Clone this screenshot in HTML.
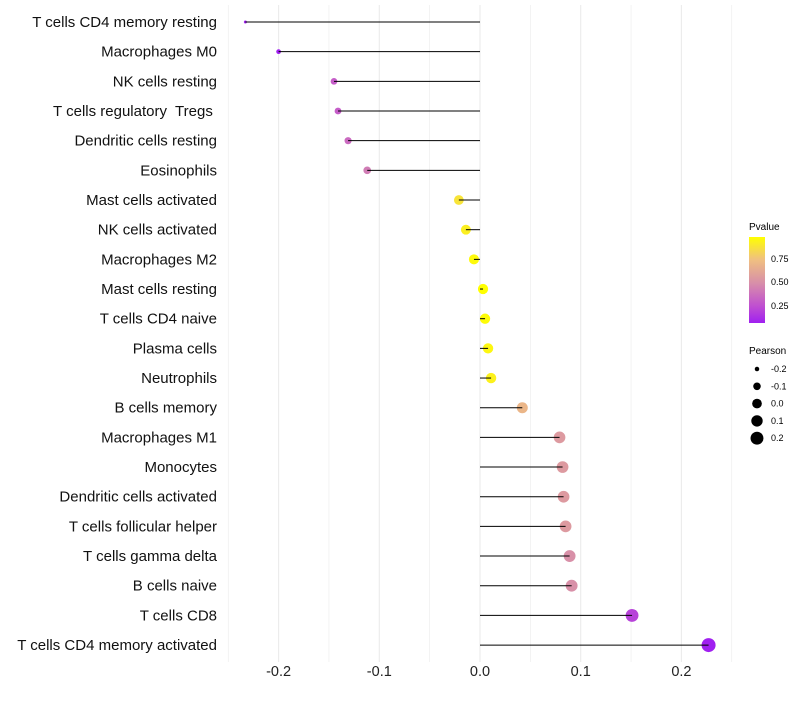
<!DOCTYPE html>
<html><head><meta charset="utf-8"><style>
body{margin:0;background:#fff;font-family:"Liberation Sans",sans-serif}
</style></head><body>
<svg id="chart" width="800" height="700" xmlns="http://www.w3.org/2000/svg" font-family="Liberation Sans, sans-serif">
<defs><linearGradient id="pg" x1="0" y1="1" x2="0" y2="0">
<stop offset="0" stop-color="#a020f0"/><stop offset="0.2" stop-color="#c050d0"/><stop offset="0.47" stop-color="#d890a8"/><stop offset="0.74" stop-color="#f0c080"/><stop offset="1" stop-color="#ffff00"/>
</linearGradient></defs>
<g id="grid"></g><g id="marks"></g><g id="labels"></g>
<g>
<text x="749" y="230" font-size="10">Pvalue</text>
<rect x="749" y="237" width="16" height="86" fill="url(#pg)"/>
<g font-size="9"><text x="771" y="262">0.75</text><text x="771" y="285">0.50</text><text x="771" y="309">0.25</text></g>
</g>
<g id="sizelegend"><text x="749" y="354" font-size="10">Pearson</text></g>
</svg>
<script>
const categories=["T cells CD4 memory resting","Macrophages M0","NK cells resting","T cells regulatory  Tregs ","Dendritic cells resting","Eosinophils","Mast cells activated","NK cells activated","Macrophages M2","Mast cells resting","T cells CD4 naive","Plasma cells","Neutrophils","B cells memory","Macrophages M1","Monocytes","Dendritic cells activated","T cells follicular helper","T cells gamma delta","B cells naive","T cells CD8","T cells CD4 memory activated"];
const pearson=[-0.233,-0.200,-0.145,-0.141,-0.131,-0.112,-0.021,-0.014,-0.006,0.003,0.005,0.008,0.011,0.042,0.079,0.082,0.083,0.085,0.089,0.091,0.151,0.227];
const pvalue=[0.03,0.06,0.3,0.3,0.35,0.42,0.88,0.92,0.96,0.98,0.97,0.95,0.93,0.7,0.55,0.55,0.55,0.55,0.5,0.5,0.2,0.06];
const xTicks=[-0.2,-0.1,0.0,0.1,0.2];
const sizeLegend=[-0.2,-0.1,0.0,0.1,0.2];
const NS="http://www.w3.org/2000/svg";
const xs=v=>480+v*1007;
const ys=i=>22+i*29.67;
const rs=v=>Math.sqrt(Math.max(2.25,2.25+101.6*(v+0.233)));
const stops=[[0.07,[160,32,240]],[0.25,[192,80,208]],[0.5,[216,144,168]],[0.75,[240,192,128]],[0.98,[255,255,0]]];
function col(p){if(p<=stops[0][0])return`rgb(${stops[0][1]})`;for(let i=1;i<stops.length;i++){if(p<=stops[i][0]){const a=stops[i-1],b=stops[i],t=(p-a[0])/(b[0]-a[0]);return`rgb(${a[1].map((c,k)=>Math.round(c+(b[1][k]-c)*t))})`;}}return"rgb(255,255,0)";}
function mk(t,a,p){const e=document.createElementNS(NS,t);for(const k in a)e.setAttribute(k,a[k]);p.appendChild(e);return e;}
const grid=document.getElementById('grid'),marks=document.getElementById('marks'),labels=document.getElementById('labels');
for(let v=-0.25;v<=0.2501;v+=0.05){const g=mk('line',{x1:xs(v),x2:xs(v),y1:5,y2:662,stroke:'#ebebeb','stroke-width':Math.abs(Math.round(v*20)%2)?0.6:1.1},grid);}
xTicks.forEach(v=>{const t=mk('text',{x:xs(v),y:676,'font-size':14.5,'text-anchor':'middle',fill:'#222'},labels);t.textContent=v.toFixed(1);});
categories.forEach((c,i)=>{const y=ys(i);
const t=mk('text',{x:217,y:y+5,'font-size':15,'text-anchor':'end',fill:'#111','xml:space':'preserve'},labels);t.style.whiteSpace='pre';t.textContent=c;
const pt=mk('circle',{cx:xs(pearson[i]),cy:y,r:rs(pearson[i]),fill:col(pvalue[i])},marks);
const l=mk('line',{x1:xs(0),x2:xs(pearson[i]),y1:y,y2:y,stroke:'#000','stroke-width':1},marks);});
const sl=document.getElementById('sizelegend');
sizeLegend.forEach((v,i)=>{const y=369+i*17.3;const c=mk('circle',{cx:757,cy:y,r:rs(v)*0.95,fill:'#000'},sl);
const t=mk('text',{x:771,y:y+3,'font-size':9},sl);t.textContent=v.toFixed(1);});
</script>
</body></html>
